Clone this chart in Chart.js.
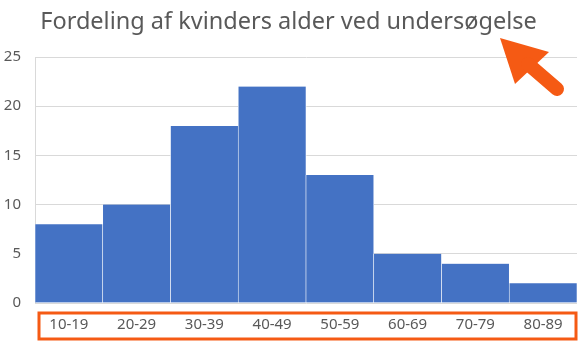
<!DOCTYPE html>
<html>
<head>
<meta charset="utf-8">
<script src="https://cdn.jsdelivr.net/npm/chart.js@4/dist/chart.umd.min.js"></script>
<style>
  html, body { margin: 0; padding: 0; background: #fff; }
  #wrap { width: 586px; height: 342px; }
</style>
</head>
<body>
<div id="wrap"><canvas id="histChart" width="586" height="342"></canvas></div>
<script>
// ── Aldersfordeling ──
const ageGroups = ['10-19', '20-29', '30-39', '40-49', '50-59', '60-69', '70-79', '80-89'];
const counts = [8, 10, 18, 22, 13, 5, 4, 2];
const yTicks = [0, 5, 10, 15, 20, 25];

const orange = '#F55A14';
const textGrey = '#595959';

// arrow + box drawn on top as annotation
const markup = {
  id: 'markup',
  afterDraw(chart) {
    const ctx = chart.ctx;
    ctx.save();
    // box round the x labels
    ctx.strokeStyle = orange;
    ctx.lineWidth = 3;
    ctx.strokeRect(39, 313, 537, 26);
    // arrow pointing at title
    ctx.fillStyle = orange;
    ctx.strokeStyle = orange;
    ctx.beginPath();
    ctx.moveTo(500, 38);
    ctx.lineTo(549, 52);
    ctx.lineTo(515, 84);
    ctx.closePath();
    ctx.fill();
    ctx.lineWidth = 14;
    ctx.lineCap = 'round';
    ctx.beginPath();
    ctx.moveTo(528, 64);
    ctx.lineTo(557, 89);
    ctx.stroke();
    ctx.restore();
  }
};

new Chart(document.getElementById('histChart'), {
  type: 'bar',
  data: {
    labels: ageGroups,
    datasets: [{
      data: counts,
      backgroundColor: '#4472C4',
      borderColor: '#ffffff',
      borderWidth: { left: 0.6, right: 0.6, top: 0, bottom: 0 },
      borderSkipped: false,
      categoryPercentage: 1,
      barPercentage: 1
    }]
  },
  options: {
    responsive: false,
    animation: false,
    layout: { padding: { left: 0, right: 9, top: 0, bottom: 0 } },
    plugins: {
      legend: { display: false },
      tooltip: { enabled: false },
      title: {
        display: true,
        text: 'Fordeling af kvinders alder ved undersøgelse',
        color: textGrey,
        font: { family: 'Noto Sans', size: 23.5, weight: 'normal' },
        padding: { top: 8, bottom: 20.8 }
      }
    },
    scales: {
      x: {
        grid: { display: false, drawTicks: false },
        border: { display: false },
        ticks: { color: textGrey, font: { family: 'Noto Sans', size: 15 }, padding: 13, maxRotation: 0 },
        afterFit: s => { s.height = 39; }
      },
      y: {
        min: 0, max: 25,
        afterBuildTicks: s => { s.ticks = yTicks.map(v => ({ value: v })); },
        grid: { color: '#D9D9D9', drawTicks: false },
        border: { display: true, color: '#D9D9D9' },
        ticks: { color: textGrey, font: { family: 'Noto Sans', size: 15 }, padding: 14 },
        afterFit: s => { s.width = 35; }
      }
    }
  },
  plugins: [markup]
});
</script>
</body>
</html>
